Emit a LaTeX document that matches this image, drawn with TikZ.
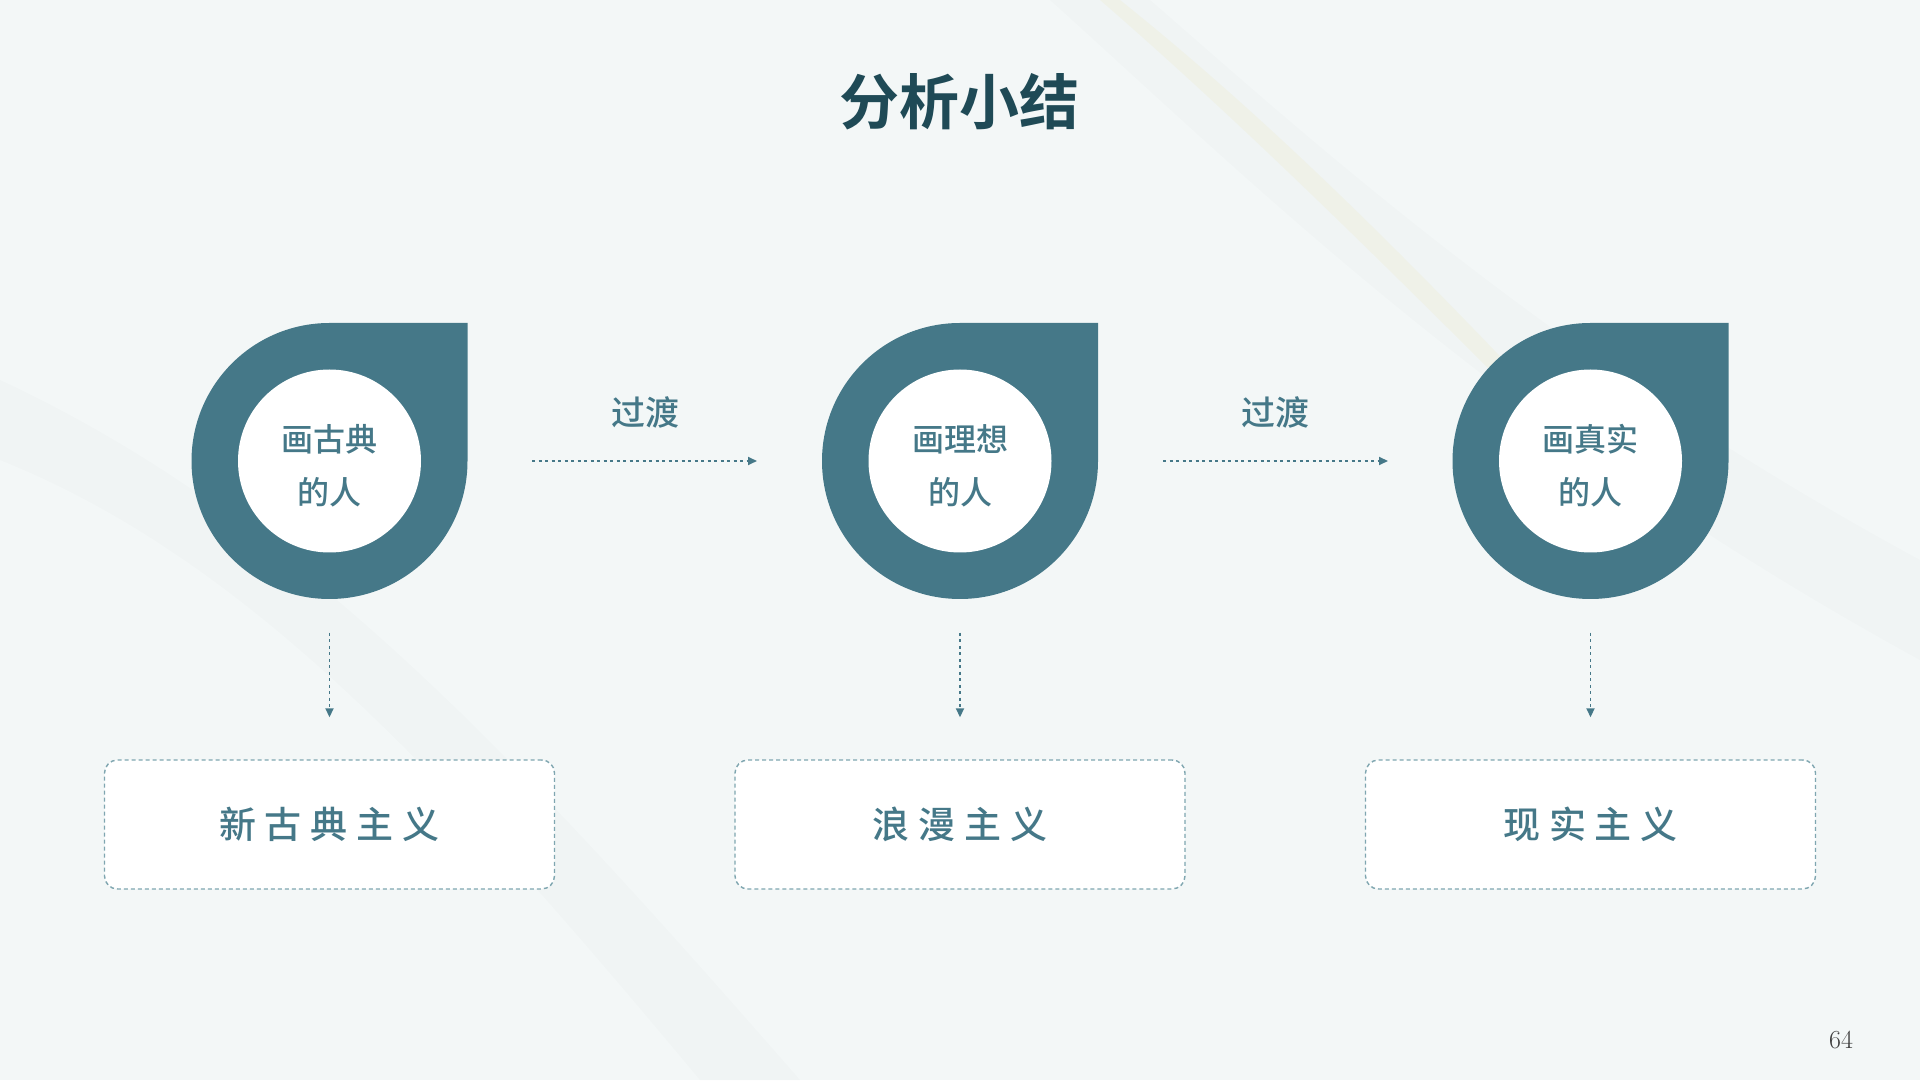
\documentclass[tikz,border=0pt]{standalone}
\usepackage{fontspec}
\newfontfamily\cjk{Noto Sans CJK SC}
\newfontfamily\cjkm{Noto Sans CJK SC Medium}
\newfontfamily\cjkb{Noto Sans CJK SC Bold}
\usetikzlibrary{arrows.meta}
\definecolor{teal1}{HTML}{457888}
\definecolor{titlec}{HTML}{1F4A56}
\definecolor{bg}{HTML}{F3F7F7}
\definecolor{boxline}{HTML}{7FA6B0}
\tikzset{
  x=1pt,y=1pt,
  drop/.style={fill=teal1},
  inner/.style={circle,fill=white,minimum size=183pt,inner sep=0pt},
  ctext/.style={align=center,text=teal1,inner sep=0pt,font=\cjkm\fontsize{32}{53}\selectfont},
  flow/.style={teal1,line width=1.8pt,dash pattern=on 3pt off 3.5pt,-{Triangle[length=9pt,width=8pt]}},
  flowlabel/.style={text=teal1,font=\cjkm\fontsize{34}{40}\selectfont},
  resbox/.style={draw=boxline,fill=white,line width=1.4pt,dash pattern=on 4pt off 3pt,rounded corners=13pt,minimum width=450pt,minimum height=129pt,text=teal1,font=\cjkm\fontsize{37}{40}\selectfont},
}
\newcommand\tdrop[2]{% center x, center y
  \fill[drop] (#1,#2+138) -- (#1+138,#2+138) -- (#1+138,#2) arc[start angle=0,end angle=-270,radius=138] -- cycle;}
\begin{document}
\begin{tikzpicture}
\useasboundingbox (0,0) rectangle (1920,1080);
\fill[bg] (0,0) rectangle (1920,1080);
% faint marble streaks
\begin{scope}[opacity=0.025]
\fill[gray] (1050,1080) .. controls (1250,900) and (1500,650) .. (1920,420) -- (1920,520) .. controls (1550,720) and (1300,950) .. (1150,1080) -- cycle;
\fill[gray] (0,620) .. controls (250,520) and (450,300) .. (700,0) -- (800,0) .. controls (520,320) and (300,560) .. (0,700) -- cycle;
\end{scope}
\begin{scope}[opacity=0.06]
\fill[yellow!60!brown] (1100,1080) .. controls (1250,950) and (1400,800) .. (1560,640) -- (1570,650) .. controls (1410,820) and (1270,960) .. (1120,1080) -- cycle;
\end{scope}
% title
\node[text=titlec,font=\cjkb\fontsize{60}{66}\selectfont] (title) at (959,978) {分析小结};
% teardrops
\tdrop{329.5}{619}
\tdrop{960}{619}
\tdrop{1590.5}{619}
\node[inner] (c1) at (329.5,619) {};
\node[inner] (c2) at (960,619) {};
\node[inner] (c3) at (1590.5,619) {};
\node[ctext] (t1) at ([yshift=-5pt]c1.center) {画古典\\的人};
\node[ctext] (t2) at ([yshift=-5pt]c2.center) {画理想\\的人};
\node[ctext] (t3) at ([yshift=-5pt]c3.center) {画真实\\的人};
% horizontal arrows
\coordinate (h1s) at (532,619); \coordinate (h1e) at (757,619);
\coordinate (h2s) at (1163,619); \coordinate (h2e) at (1388,619);
\draw[flow] (h1s) -- (h1e);
\draw[flow] (h2s) -- (h2e);
\node[flowlabel] (l1) at (645,668) {过渡};
\node[flowlabel] (l2) at (1275,668) {过渡};
% boxes
\node[resbox] (b1) at (329.5,255.5) {新\kern9pt 古\kern9pt 典\kern9pt 主\kern9pt 义};
\node[resbox] (b2) at (960,255.5) {浪\kern9pt 漫\kern9pt 主\kern9pt 义};
\node[resbox] (b3) at (1590.5,255.5) {现\kern9pt 实\kern9pt 主\kern9pt 义};
% vertical arrows
\draw[flow] ([yshift=-80pt]c1.south) -- ([yshift=42pt]b1.north);
\draw[flow] ([yshift=-80pt]c2.south) -- ([yshift=42pt]b2.north);
\draw[flow] ([yshift=-80pt]c3.south) -- ([yshift=42pt]b3.north);
% page number
\node[text=black!75,font=\fontsize{26}{30}\selectfont] (pg) at (1841,40) {64};
\end{tikzpicture}
\end{document}
